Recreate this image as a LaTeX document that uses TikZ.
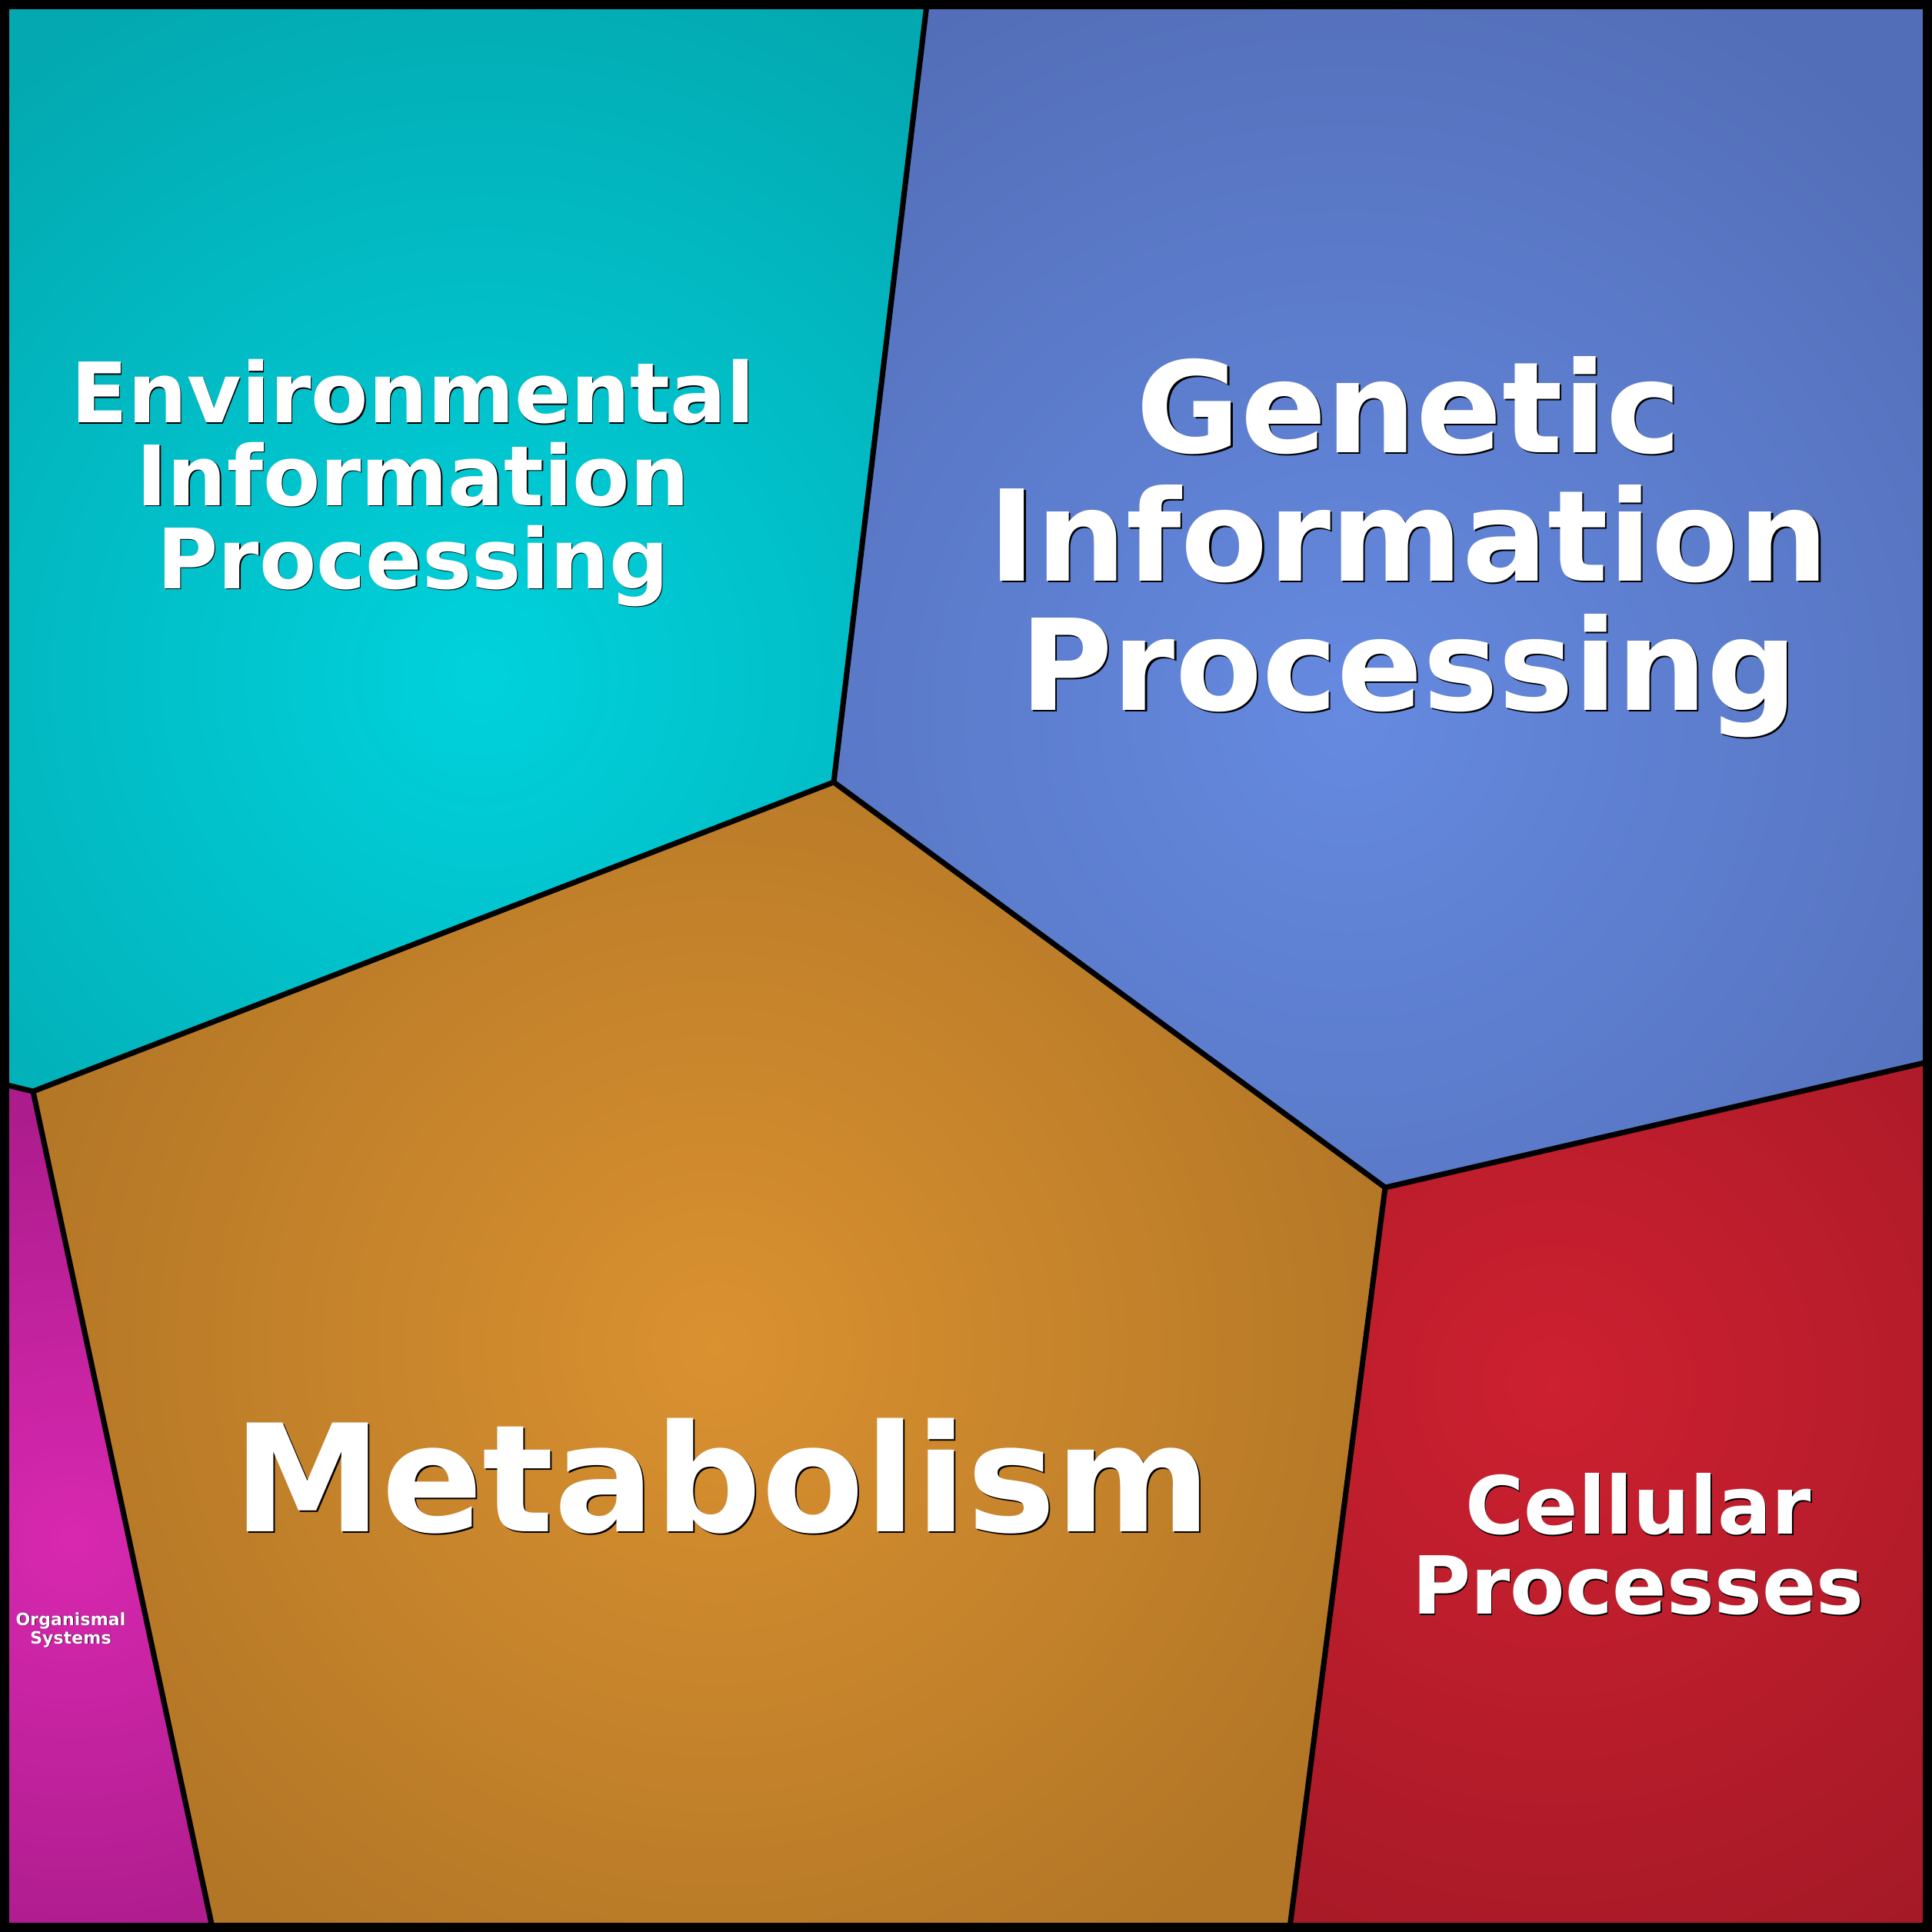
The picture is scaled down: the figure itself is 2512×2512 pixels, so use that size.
\documentclass[tikz,border=0pt]{standalone}
\usepackage{fontspec}
\setmainfont{DejaVu Sans}
\definecolor{envin}{RGB}{0,210,220}
\definecolor{envout}{RGB}{3,168,176}
\definecolor{genin}{RGB}{101,138,224}
\definecolor{genout}{RGB}{83,110,184}
\definecolor{metin}{RGB}{218,145,48}
\definecolor{metout}{RGB}{178,118,38}
\definecolor{cellin}{RGB}{205,32,48}
\definecolor{cellout}{RGB}{164,25,38}
\definecolor{orgin}{RGB}{216,40,176}
\definecolor{orgout}{RGB}{172,28,140}

\begin{document}
\begin{tikzpicture}[x=0.01cm,y=-0.01cm,
  cut/.style={line width=2pt,line join=miter},
  frame/.style={line width=3.4pt},
  cat/.style 2 args={text=white,align=center,inner sep=0pt,font=\fontsize{#1}{#2}\selectfont\bfseries},
  back/.style={text=black,xshift=#1,yshift=-#1}]
  \useasboundingbox (0,0) rectangle (2512,2512);
  \coordinate (nw) at (6,6);
  \coordinate (ne) at (2506,6);
  \coordinate (se) at (2506,2506);
  \coordinate (sw) at (6,2506);
  \coordinate (t) at (1205,6);
  \coordinate (a) at (1084,1017);
  \coordinate (b) at (1801,1544);
  \coordinate (c) at (2506,1381);
  \coordinate (d) at (1677,2506);
  \coordinate (e) at (276,2506);
  \coordinate (f) at (43,1419);
  \coordinate (g) at (6,1410);

  \begin{scope}
    \clip (nw) -- (t) -- (a) -- (f) -- (g) -- cycle;
    \fill[envout] (nw) rectangle (se);
    \shade[inner color=envin,outer color=envout] (625,880) circle (1000);
  \end{scope}
  \begin{scope}
    \clip (t) -- (ne) -- (c) -- (b) -- (a) -- cycle;
    \fill[genout] (nw) rectangle (se);
    \shade[inner color=genin,outer color=genout] (1750,930) circle (1050);
  \end{scope}
  \begin{scope}
    \clip (a) -- (b) -- (d) -- (e) -- (f) -- cycle;
    \fill[metout] (nw) rectangle (se);
    \shade[inner color=metin,outer color=metout] (930,1750) circle (950);
  \end{scope}
  \begin{scope}
    \clip (b) -- (c) -- (se) -- (d) -- cycle;
    \fill[cellout] (nw) rectangle (se);
    \shade[inner color=cellin,outer color=cellout] (2020,1800) circle (850);
  \end{scope}
  \begin{scope}
    \clip (g) -- (f) -- (e) -- (sw) -- cycle;
    \fill[orgout] (nw) rectangle (se);
    \shade[inner color=orgin,outer color=orgout] (96,2000) circle (560);
  \end{scope}

  \draw[cut] (t) -- (a) -- (b) -- (c);
  \draw[cut] (g) -- (f) -- (a);
  \draw[cut] (f) -- (e);
  \draw[cut] (b) -- (d);
  \draw[frame] (nw) rectangle (se);

  \node[cat={30.8}{30.6},back=0.4pt] (envs) at (537,628) {Environmental\\Information\\Processing};
  \node[cat={30.8}{30.6}] (env) at (537,628) {Environmental\\Information\\Processing};
  \node[cat={46.8}{47.6},back=0.6pt] (gens) at (1832,711) {Genetic\\Information\\Processing};
  \node[cat={46.8}{47.6}] (gen) at (1832,711) {Genetic\\Information\\Processing};
  \node[cat={55.2}{55.2},back=0.6pt,anchor=base] (mets) at (939,1991) {Metabolism};
  \node[cat={55.2}{55.2},anchor=base] (met) at (939,1991) {Metabolism};
  \node[cat={29.6}{29.6},back=0.4pt] (cells) at (2130,2008) {Cellular\\Processes};
  \node[cat={29.6}{29.6}] (cell) at (2130,2008) {Cellular\\Processes};
  \node[cat={6.3}{6.8},back=0.2pt] (orgs) at (92,2119) {Organismal\\Systems};
  \node[cat={6.3}{6.8}] (org) at (92,2119) {Organismal\\Systems};
\end{tikzpicture}
\end{document}
